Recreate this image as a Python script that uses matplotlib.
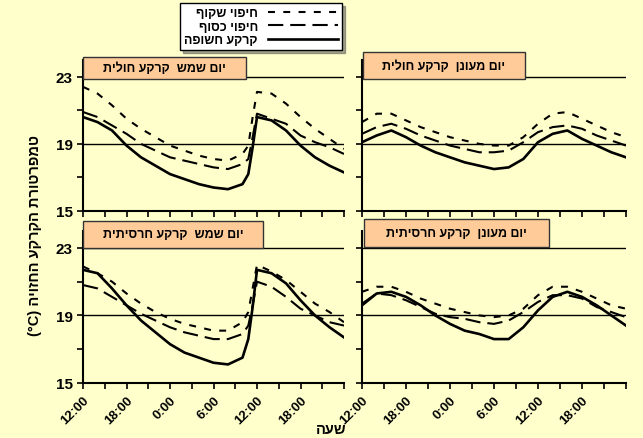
import matplotlib
matplotlib.use('Agg')
import matplotlib.pyplot as plt
from matplotlib.lines import Line2D
from matplotlib.patches import Rectangle

plt.rcParams['font.family'] = ['Liberation Sans', 'DejaVu Sans']
plt.rcParams['font.weight'] = 'bold'
plt.rcParams['lines.scale_dashes'] = False

def heb(s):
    # matplotlib draws left to right, so hebrew is reversed by hand
    return s[::-1]

# --- data (hours counted from 12:00 of the first day) ---
hours_sun = [0, 2, 4, 6, 8, 10, 12, 14, 16, 18, 20, 22, 22.8, 23.4, 24, 26, 28, 30, 32, 34, 36]
hours_cloud = [0, 2, 4, 6, 8, 10, 12, 14, 16, 18, 20, 22, 24, 26, 28, 30, 32, 34, 36]

# sunny day, sandy soil
sun_sand_clear = [22.4, 22.0, 21.3, 20.5, 19.9, 19.4, 18.9, 18.6, 18.3, 18.1, 18.0, 18.4, 18.9, 20.6, 22.1, 22.0, 21.4, 20.6, 19.9, 19.3, 18.7]
sun_sand_silver = [20.9, 20.6, 20.1, 19.6, 19.0, 18.6, 18.2, 18.0, 17.8, 17.6, 17.5, 17.8, 18.1, 19.4, 20.8, 20.5, 20.2, 19.5, 19.1, 18.8, 18.4]
sun_sand_bare = [20.6, 20.3, 19.8, 18.9, 18.2, 17.7, 17.2, 16.9, 16.6, 16.4, 16.3, 16.6, 17.2, 18.8, 20.6, 20.4, 19.8, 18.9, 18.2, 17.7, 17.3]

# cloudy day, sandy soil
cloud_sand_clear = [20.3, 20.8, 20.8, 20.4, 20.0, 19.7, 19.4, 19.2, 19.0, 18.9, 18.9, 19.4, 20.2, 20.8, 20.9, 20.5, 20.1, 19.7, 19.4]
cloud_sand_silver = [19.6, 20.0, 20.2, 19.9, 19.5, 19.2, 18.9, 18.7, 18.5, 18.5, 18.6, 19.1, 19.7, 20.0, 20.1, 19.9, 19.5, 19.2, 18.9]
cloud_sand_bare = [19.1, 19.5, 19.8, 19.4, 18.9, 18.5, 18.2, 17.9, 17.7, 17.5, 17.6, 18.1, 19.1, 19.6, 19.8, 19.3, 18.9, 18.5, 18.2]

# sunny day, clay soil
sun_clay_clear = [21.9, 21.5, 21.0, 20.3, 19.7, 19.2, 18.8, 18.5, 18.3, 18.1, 18.1, 18.6, 19.2, 20.6, 22.0, 21.6, 21.1, 20.4, 19.7, 19.2, 18.6]
sun_clay_silver = [20.8, 20.6, 20.1, 19.6, 19.1, 18.7, 18.3, 18.0, 17.8, 17.6, 17.6, 17.9, 18.4, 19.6, 21.0, 20.7, 20.1, 19.4, 19.0, 18.6, 18.4]
sun_clay_bare = [21.7, 21.5, 20.6, 19.6, 18.7, 18.0, 17.3, 16.8, 16.5, 16.2, 16.1, 16.5, 17.6, 19.5, 21.7, 21.5, 20.9, 19.9, 19.0, 18.3, 17.7]

# cloudy day, clay soil
cloud_clay_clear = [20.4, 20.7, 20.7, 20.4, 20.0, 19.7, 19.4, 19.2, 19.0, 18.9, 19.0, 19.4, 20.2, 20.7, 20.7, 20.4, 20.0, 19.6, 19.4]
cloud_clay_silver = [19.7, 20.3, 20.2, 19.9, 19.5, 19.1, 18.9, 18.8, 18.6, 18.5, 18.7, 19.2, 19.8, 20.2, 20.2, 20.0, 19.5, 19.2, 18.9]
cloud_clay_bare = [19.6, 20.3, 20.4, 20.1, 19.6, 19.0, 18.5, 18.1, 17.9, 17.6, 17.6, 18.3, 19.3, 20.1, 20.4, 20.1, 19.6, 19.0, 18.4]

series_names = ['חיפוי שקוף', 'חיפוי כסוף', 'קרקע חשופה']
panel_titles = ['יום שמש  קרקע חולית', 'יום מעונן  קרקע חולית',
                'יום שמש  קרקע חרסיתית', 'יום מעונן  קרקע חרסיתית']
tick_hours = list(range(0, 37, 3))
tick_labels = ['12:00', '', '18:00', '', '0:00', '', '6:00', '', '12:00', '', '18:00', '', '']
y_ticks = [15, 17, 19, 21, 23]
y_labels = ['15', '', '19', '', '23']

bg = '#FFFFCC'
box_color = '#FFCC99'
styles = [dict(ls=(0, (5, 6)), lw=1.5),
          dict(ls=(0, (11, 5)), lw=1.5),
          dict(ls='-', lw=1.9)]

W, H = 643, 439
fig = plt.figure(figsize=(W / 100, H / 100), dpi=100, facecolor=bg)

def px_axes(x0, x1, ytop, ybot):
    return fig.add_axes([x0 / W, 1 - ybot / H, (x1 - x0) / W, (ybot - ytop) / H])

panels = [
    (px_axes(83, 344, 61, 212), hours_sun, [sun_sand_clear, sun_sand_silver, sun_sand_bare], (0.0, 0.874, 0.625, 0.146)),
    (px_axes(362, 626, 61, 212), hours_cloud, [cloud_sand_clear, cloud_sand_silver, cloud_sand_bare], (0.004, 0.874, 0.613, 0.18)),
    (px_axes(83, 344, 232, 384), hours_sun, [sun_clay_clear, sun_clay_silver, sun_clay_bare], (0.0, 0.888, 0.69, 0.178)),
    (px_axes(362, 626, 232, 384), hours_cloud, [cloud_clay_clear, cloud_clay_silver, cloud_clay_bare], (0.008, 0.895, 0.70, 0.184)),
]

for i, (ax, hrs, curves, box) in enumerate(panels):
    ax.set_facecolor(bg)
    ax.set_xlim(0, 36)
    ax.set_ylim(15, 24)
    for yl in (19, 23):
        ax.axhline(yl, color='black', lw=1.0, zorder=1)
    for vals, st in zip(curves, styles):
        ax.plot(hrs, vals, color='black', zorder=3, **st)
    for s in ('top', 'right'):
        ax.spines[s].set_visible(False)
    for s in ('left', 'bottom'):
        ax.spines[s].set_linewidth(1.5)
    ax.set_yticks(y_ticks)
    ax.set_xticks(tick_hours)
    ax.tick_params(direction='out', length=4, width=1.2)
    if i % 2 == 0:
        ax.set_yticklabels(y_labels, fontsize=11, fontweight='bold')
    else:
        ax.set_yticklabels([])
    if i >= 2:
        ax.set_xticklabels(tick_labels, rotation=45, ha='right', va='top',
                           rotation_mode='anchor', fontsize=9.5, fontweight='bold')
    else:
        ax.set_xticklabels([])
    bx, by, bw, bh = box
    ax.add_patch(Rectangle((bx, by), bw, bh, transform=ax.transAxes, facecolor=box_color,
                           edgecolor='#333333', lw=1.0, clip_on=False, zorder=5))
    ax.text(bx + bw / 2, by + bh / 2, heb(panel_titles[i]), transform=ax.transAxes,
            ha='center', va='center', fontsize=9, fontweight='bold', zorder=6)

handles = [Line2D([], [], color='black', **st) for st in styles]
leg = fig.legend(handles, [heb(n) for n in series_names], loc='upper left',
                 bbox_to_anchor=(180 / W, 1 - 4 / H), markerfirst=False,
                 prop={'size': 9, 'weight': 'bold'}, handlelength=5.6,
                 labelspacing=0.1, borderpad=0.35, handletextpad=0.8,
                 borderaxespad=0, fancybox=False, shadow=True, framealpha=1)
leg.get_frame().set_edgecolor('black')
leg.get_frame().set_linewidth(1.0)

fig.text(35 / W, 1 - 235 / H, '(°C) ' + heb('טמפרטורת הקרקע החזויה'),
         rotation=90, ha='center', va='center', fontsize=10.5, fontweight='bold')
fig.text(331 / W, 1 - 430 / H, heb('שעה'), ha='center', va='center',
         fontsize=10.5, fontweight='bold')

fig.savefig('out.png', dpi=100, facecolor=bg)
